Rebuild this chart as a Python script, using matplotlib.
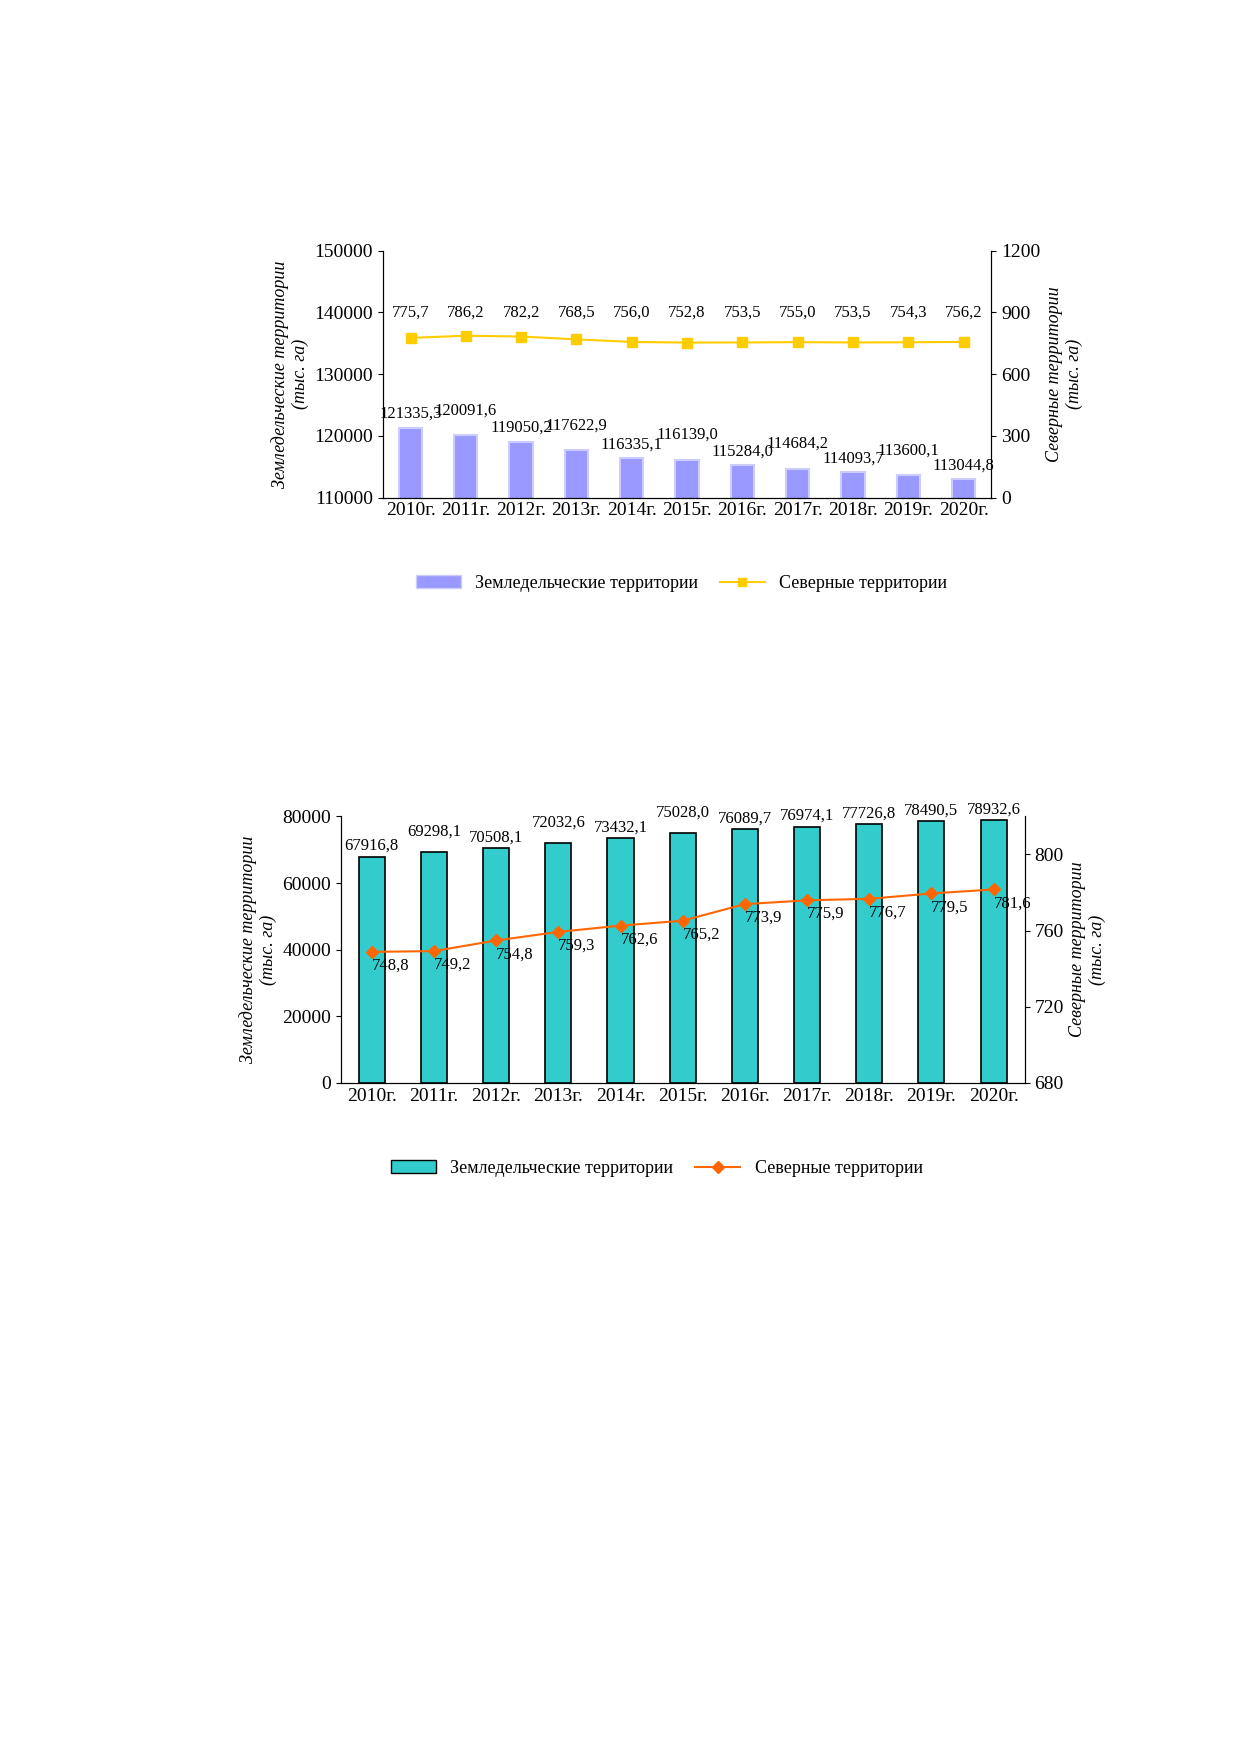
import matplotlib.pyplot as plt
from matplotlib.lines import Line2D
from matplotlib.patches import Patch

plt.rcParams['font.family'] = ['Liberation Serif', 'DejaVu Serif']
plt.rcParams['font.size'] = 13

years = ['2010г.', '2011г.', '2012г.', '2013г.', '2014г.', '2015г.',
         '2016г.', '2017г.', '2018г.', '2019г.', '2020г.']

zeml_1 = [121335.3, 120091.6, 119050.2, 117622.9, 116335.1, 116139.0,
          115284.0, 114684.2, 114093.7, 113600.1, 113044.8]
sever_1 = [775.7, 786.2, 782.2, 768.5, 756.0, 752.8, 753.5, 755.0, 753.5, 754.3, 756.2]

zeml_2 = [67916.8, 69298.1, 70508.1, 72032.6, 73432.1, 75028.0,
          76089.7, 76974.1, 77726.8, 78490.5, 78932.6]
sever_2 = [748.8, 749.2, 754.8, 759.3, 762.6, 765.2, 773.9, 775.9, 776.7, 779.5, 781.6]


def fmt(v):
    return f'{v:.1f}'.replace('.', ',')


fig = plt.figure(figsize=(12.39, 17.52), dpi=100)
x = range(len(years))

# ---- график 1
ax1 = fig.add_axes([0.309, 0.716, 0.491, 0.141])
ax1.bar(x, zeml_1, width=0.42, color='#9999ff', edgecolor='#ccccff', linewidth=1.5)
ax1.set_ylim(110000, 150000)
ax1.set_yticks(range(110000, 150001, 10000))
ax1.set_xlim(-0.5, 10.5)
ax1.set_xticks(list(x))
ax1.set_xticklabels(years, fontsize=14)
ax1.tick_params(axis='y', labelsize=14, direction='out')
ax1.tick_params(axis='x', length=0)
ax1.spines['top'].set_visible(False)
ax1.set_ylabel('Земледельческие территории\n(тыс. га)', fontstyle='italic', fontsize=13)
for i, v in enumerate(zeml_1):
    ax1.text(i, v + 900 + (1800 if i % 2 == 1 and i < 10 else 0), fmt(v), ha='center', va='bottom', fontsize=12)

ax1r = ax1.twinx()
ax1r.plot(x, sever_1, color='#ffcc00', marker='s', markersize=7, linewidth=1.5)
ax1r.set_ylim(0, 1200)
ax1r.set_yticks(range(0, 1201, 300))
ax1r.tick_params(axis='y', labelsize=14)
ax1r.spines['top'].set_visible(False)
ax1r.set_ylabel('Северные территории\n(тыс. га)', fontstyle='italic', fontsize=13)
for i, v in enumerate(sever_1):
    ax1r.text(i, 860, fmt(v), ha='center', va='bottom', fontsize=12)

fig.legend(handles=[Patch(facecolor='#9999ff', edgecolor='#ccccff', label='Земледельческие территории'),
                    Line2D([0], [0], color='#ffcc00', marker='s', label='Северные территории')],
           loc='center', bbox_to_anchor=(0.55, 0.667), ncol=2, frameon=False, fontsize=13,
           handlelength=2.5, columnspacing=1.2)

# ---- график 2
ax2 = fig.add_axes([0.275, 0.382, 0.552, 0.152])
ax2.bar(x, zeml_2, width=0.42, color='#33cccc', edgecolor='black', linewidth=1.2)
ax2.set_ylim(0, 80000)
ax2.set_yticks(range(0, 80001, 20000))
ax2.set_xlim(-0.5, 10.5)
ax2.set_xticks(list(x))
ax2.set_xticklabels(years, fontsize=14)
ax2.tick_params(axis='y', labelsize=14)
ax2.tick_params(axis='x', length=0)
ax2.spines['top'].set_visible(False)
ax2.set_ylabel('Земледельческие территории\n(тыс. га)', fontstyle='italic', fontsize=13)
for i, v in enumerate(zeml_2):
    ax2.text(i, v + 800 + (3000 if i % 2 == 1 and i < 6 else 0), fmt(v), ha='center', va='bottom', fontsize=12)

ax2r = ax2.twinx()
ax2r.plot(x, sever_2, color='#ff6600', marker='D', markersize=6, linewidth=1.5)
ax2r.set_ylim(680, 820)
ax2r.set_yticks([680, 720, 760, 800])
ax2r.tick_params(axis='y', labelsize=14)
ax2r.spines['top'].set_visible(False)
ax2r.set_ylabel('Северные территории\n(тыс. га)', fontstyle='italic', fontsize=13)
for i, v in enumerate(sever_2):
    ax2r.text(i + 0.3, v - 3, fmt(v), ha='center', va='top', fontsize=12)

fig.legend(handles=[Patch(facecolor='#33cccc', edgecolor='black', label='Земледельческие территории'),
                    Line2D([0], [0], color='#ff6600', marker='D', label='Северные территории')],
           loc='center', bbox_to_anchor=(0.53, 0.333), ncol=2, frameon=False, fontsize=13,
           handlelength=2.5, columnspacing=1.2)

fig.savefig('out.png', dpi=100)
